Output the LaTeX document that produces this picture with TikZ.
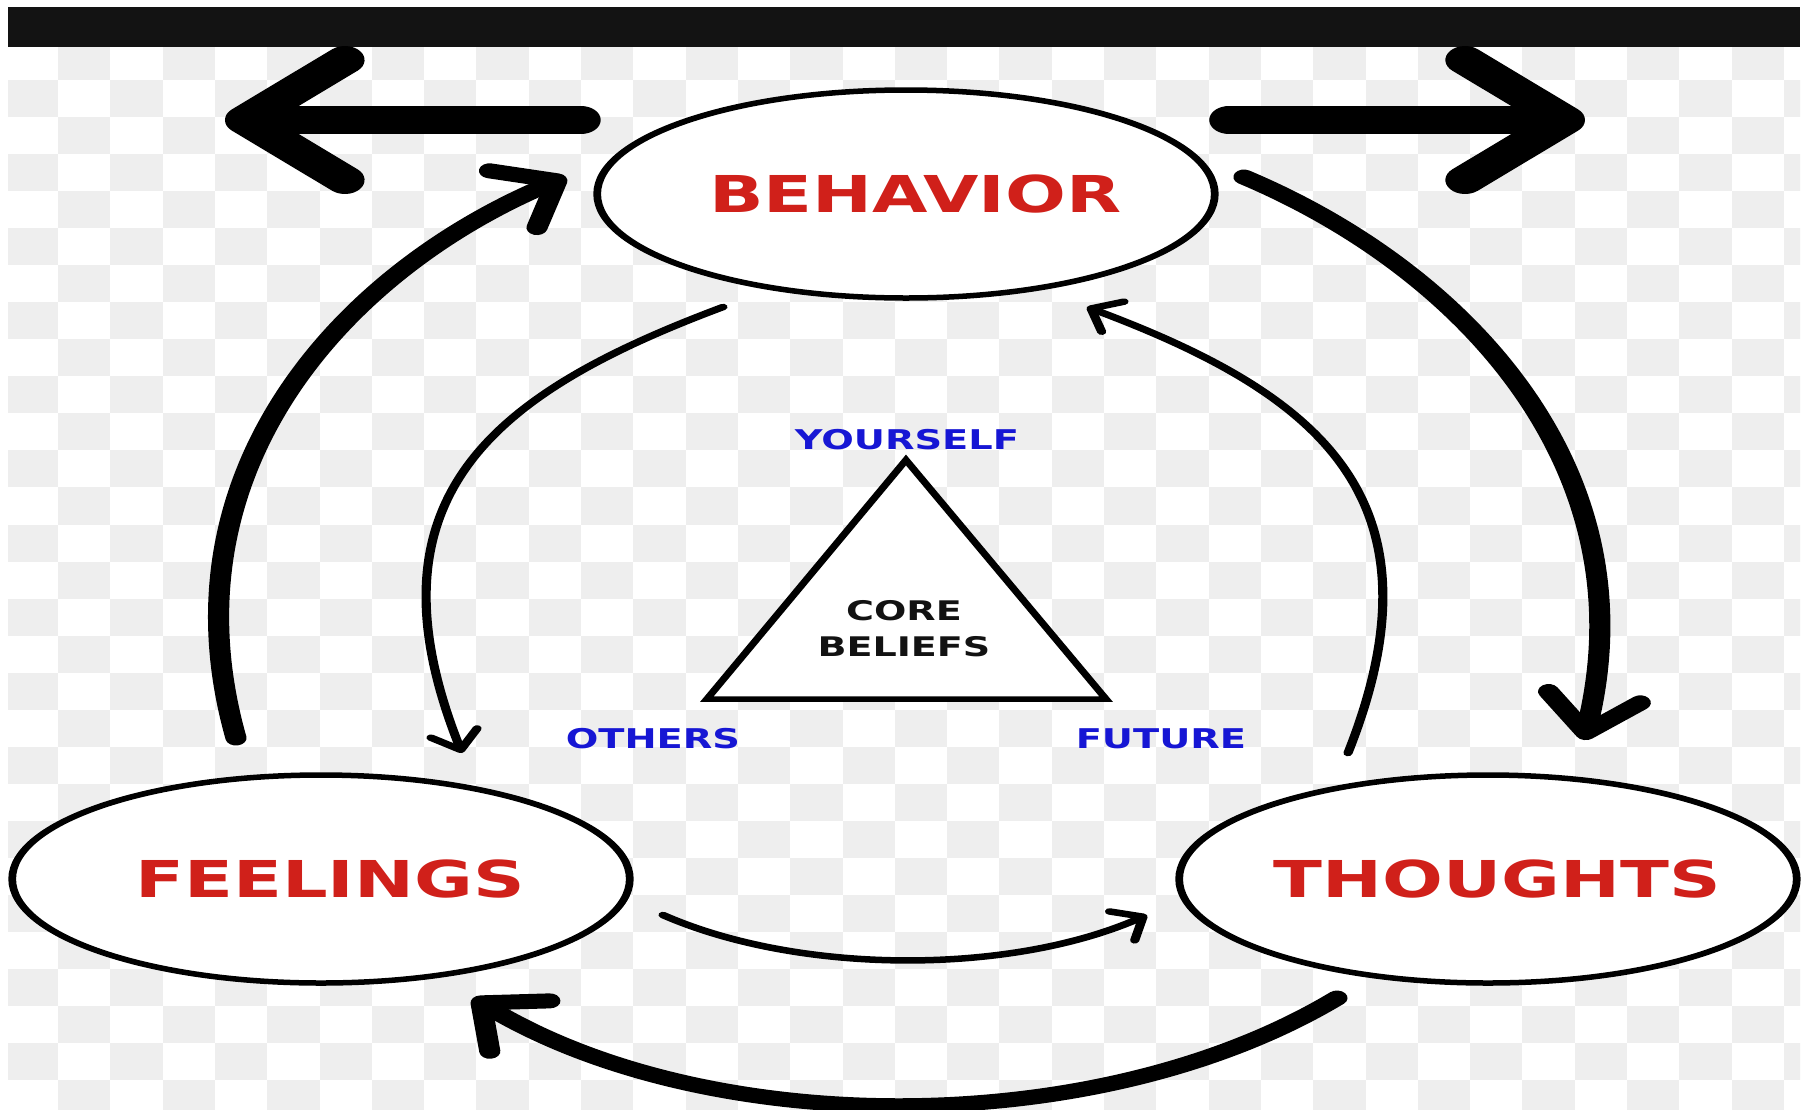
\documentclass[tikz,border=0pt]{standalone}
\usepackage{fontspec}
\usetikzlibrary{arrows.meta,shapes.geometric}

\newfontfamily\labelfont{DejaVu Sans Bold}

\definecolor{labelred}{RGB}{208,32,26}
\definecolor{cornerblue}{RGB}{22,22,212}
\definecolor{checkgray}{RGB}{238,238,238}
\definecolor{barblack}{RGB}{19,19,19}

% the whole drawing is set narrow and then widened by this factor
\def\widen{1.41}

% stage names do not resize their ellipse; nudged a little to the right
\newcommand\stagelabel[1]{\makebox[0pt]{\hspace*{13pt}#1}}

\tikzset{
  stage/.style={ellipse, draw, line width=5.5pt, fill=white,
    minimum width=438pt, minimum height=208pt, text=labelred,
    font=\labelfont\fontsize{50.8pt}{60pt}\selectfont},
  corner/.style={text=cornerblue, font=\labelfont\fontsize{27.2pt}{32pt}\selectfont},
  core/.style={align=center, text=black!93, font=\labelfont\fontsize{27pt}{36pt}\selectfont},
  toparrow/.style={line width=28pt, line cap=round,
    -{Straight Barb[round, length=71pt, width=120pt]}},
  bigarrow/.style={line width=15pt, line cap=round,
    -{Straight Barb[round, length=36pt, width=66pt]}},
  thinarrow/.style={line width=6.5pt, line cap=round,
    -{Straight Barb[round, length=17.5pt, width=34pt]}},
}

\begin{document}
\begin{tikzpicture}[x=1pt, y=-1pt]

  % Page size and white margin
  \useasboundingbox (0,0) rectangle (1807,1109);
  \fill[white] (0,0) rectangle (1807,1109);

  % Checkered backdrop
  \begin{scope}
    \clip (8,47) rectangle (1800,1109);
    \foreach \i in {0,...,34}{
      \foreach \j in {0,...,28}{
        \ifodd\numexpr\i+\j\relax
          \fill[checkgray] ({5.7+52.3*\i},{43+37.04*\j}) rectangle ++(52.3,37.04);
        \fi
      }
    }
  \end{scope}

  % Dark strip along the top
  \fill[barblack] (8,7) rectangle (1800,47);

  \begin{scope}[x=1pt/\widen, transform canvas={xscale=\widen}]

  % The three stages
  \node[stage] (beh) at (906,194) {\stagelabel{BEHAVIOR}};
  \node[stage] (feel) at (321,879) {\stagelabel{FEELINGS}};
  \node[stage] (thou) at (1488,879) {\stagelabel{THOUGHTS}};

  % Arrows leaving behavior on both sides
  \coordinate (back-tail) at (581,120);
  \coordinate (back-tip) at (225,120);
  \coordinate (ahead-tail) at (1229,120);
  \coordinate (ahead-tip) at (1585,120);
  \draw[toparrow] (back-tail) -- (back-tip);
  \draw[toparrow] (ahead-tail) -- (ahead-tip);

  % Outer cycle: feelings -> behavior -> thoughts -> feelings
  \coordinate (fb-a) at (236,738);
  \coordinate (fb-b) at (566,177);
  \draw[bigarrow] (fb-a) .. controls (160,470) and (345,270) .. (fb-b);

  \coordinate (bt-a) at (1244,177);
  \coordinate (bt-b) at (1584,740);
  \draw[bigarrow] (bt-a) .. controls (1465,270) and (1650,470) .. (bt-b);

  \coordinate (tf-a) at (1337,998);
  \coordinate (tf-b) at (473,998);
  \draw[bigarrow] (tf-a) .. controls (1100,1140) and (710,1140) .. (tf-b);

  % Inner cycle, the other way round
  \coordinate (bf-a) at (723,307);
  \coordinate (bf-b) at (462,753);
  \draw[thinarrow] (bf-a) .. controls (493,393) and (360,497) .. (bf-b);

  \coordinate (ft-a) at (663,915);
  \coordinate (ft-b) at (1147,915);
  \draw[thinarrow] (ft-a) .. controls (800,975) and (1010,975) .. (ft-b);

  \coordinate (tb-a) at (1348,753);
  \coordinate (tb-b) at (1087,307);
  \draw[thinarrow] (tb-a) .. controls (1450,497) and (1317,393) .. (tb-b);

  % Core beliefs triangle
  \coordinate (tri-t) at (906,460);
  \coordinate (tri-l) at (707,699);
  \coordinate (tri-r) at (1106,699);
  \draw[line width=5.5pt, fill=white] (tri-t) -- (tri-l) -- (tri-r) -- cycle;
  \node[core] (core) at (904,629) {CORE\\BELIEFS};

  % Corner labels
  \node[corner] (you) at (907,440) {YOURSELF};
  \node[corner] (oth) at (653,739) {OTHERS};
  \node[corner] (fut) at (1161,739) {FUTURE};

  \end{scope}

\end{tikzpicture}
\end{document}
